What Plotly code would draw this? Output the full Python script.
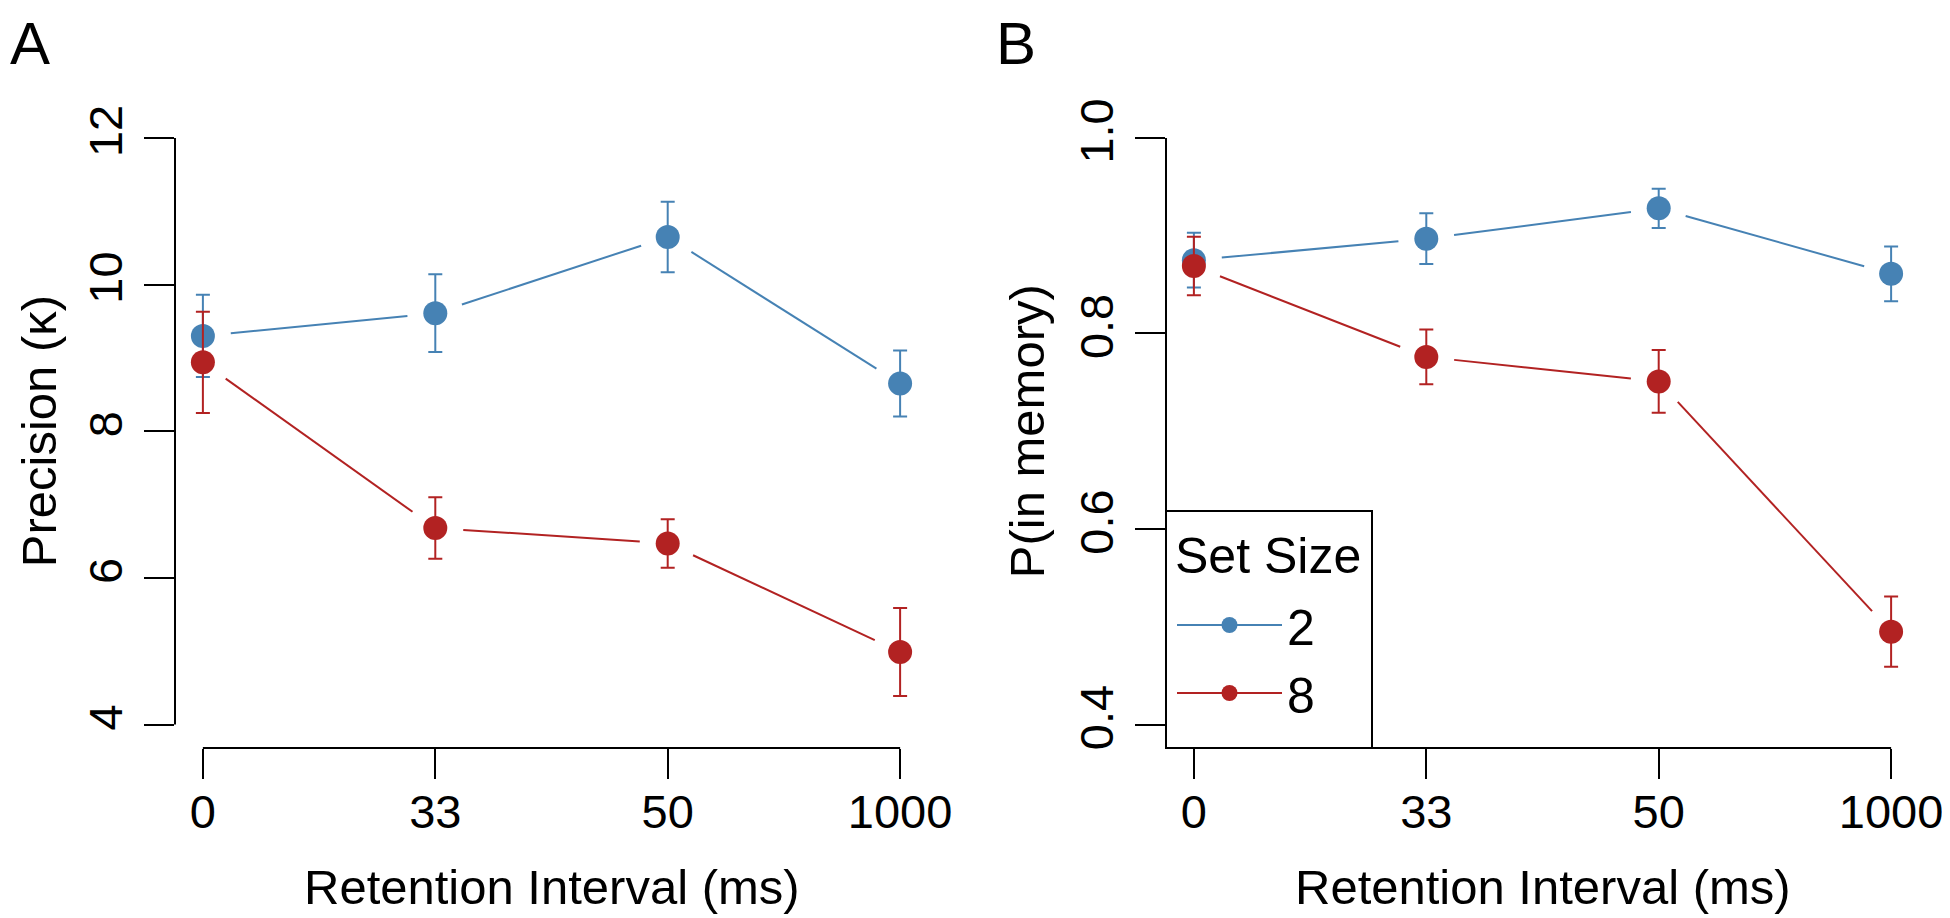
import numpy as np
import plotly.graph_objects as go

# ---------------- data ----------------
intervals = ["0", "33", "50", "1000"]
set_sizes = ["2", "8"]

precision_ss2 = [9.30, 9.61, 10.65, 8.65]
precision_ss2_err = [0.56, 0.53, 0.48, 0.45]
precision_ss8 = [8.94, 6.68, 6.47, 4.99]
precision_ss8_err = [0.69, 0.42, 0.33, 0.60]

pmem_ss2 = [0.875, 0.897, 0.928, 0.861]
pmem_ss2_err = [0.028, 0.026, 0.020, 0.028]
pmem_ss8 = [0.869, 0.776, 0.751, 0.495]
pmem_ss8_err = [0.030, 0.028, 0.032, 0.036]

precision_ticks = [4, 6, 8, 10, 12]
pmem_ticks = [0.4, 0.6, 0.8, 1.0]
pmem_ticktext = ["0.4", "0.6", "0.8", "1.0"]

# ---------------- style / layout ----------------
OFF = 8                      # default page body margin
W, H = 1950 - OFF, 918 - OFF  # figure size so it fills the window
BLUE = "#4682B4"
RED = "#B22222"
FONT = "Liberation Sans"
TICK_SIZE = 47
TITLE_SIZE = 49
LEG_SIZE = 50

# target positions in window pixels, converted to figure pixels
A_left, A_right = 175 - OFF, 928 - OFF
B_left, B_right = 1166 - OFF, 1919 - OFF
top_px, bottom_px = 114.5 - OFF, 748 - OFF
leg_right, leg_top = 1372 - OFF, 511 - OFF

xpos = np.arange(len(intervals))


def padded(lo, hi):
    d = (hi - lo) * 0.04
    return [lo - d, hi + d]


xr = padded(0, len(intervals) - 1)
yrA = padded(4, 12)
yrB = padded(0.4, 1.0)

GAP = 28  # px gap between line ends and point centres (R type="b")


def gapped(y, yr, width_px):
    sx = width_px / (xr[1] - xr[0])
    sy = (bottom_px - top_px) / (yr[1] - yr[0])
    xs, ys = [], []
    for i in range(len(y) - 1):
        ddx = xpos[i + 1] - xpos[i]
        ddy = y[i + 1] - y[i]
        L = np.hypot(ddx * sx, ddy * sy)
        f = GAP / L
        xs += [xpos[i] + ddx * f, xpos[i + 1] - ddx * f, None]
        ys += [y[i] + ddy * f, y[i + 1] - ddy * f, None]
    return xs, ys


fig = go.Figure()

panels = [
    ("x", "y", yrA, A_right - A_left,
     [(precision_ss2, precision_ss2_err, BLUE), (precision_ss8, precision_ss8_err, RED)]),
    ("x2", "y2", yrB, B_right - B_left,
     [(pmem_ss2, pmem_ss2_err, BLUE), (pmem_ss8, pmem_ss8_err, RED)]),
]

for xa, ya, yr, wpx, series in panels:
    for vals, err, col in series:
        lx, ly = gapped(vals, yr, wpx)
        fig.add_trace(go.Scatter(x=lx, y=ly, mode="lines", xaxis=xa, yaxis=ya,
                                 line=dict(color=col, width=2), showlegend=False,
                                 hoverinfo="skip"))
    for vals, err, col in series:
        fig.add_trace(go.Scatter(
            x=xpos, y=vals, mode="markers", xaxis=xa, yaxis=ya,
            marker=dict(color=col, size=24, line=dict(width=0)),
            error_y=dict(type="data", array=err, visible=True, color=col,
                         thickness=2, width=7),
            showlegend=False))

# legend entries
for name, col in zip(set_sizes, [BLUE, RED]):
    fig.add_trace(go.Scatter(x=[None], y=[None], mode="lines+markers", name=name,
                             xaxis="x2", yaxis="y2",
                             line=dict(color=col, width=2),
                             marker=dict(color=col, size=24)))

ax_common = dict(showgrid=False, zeroline=False, showline=False, ticks="outside",
                 ticklen=30, tickwidth=2, tickcolor="black", automargin=False,
                 tickfont=dict(family=FONT, size=TICK_SIZE, color="black"))
ydom = [1 - bottom_px / H, 1 - top_px / H]

fig.update_layout(
    width=W, height=H,
    margin=dict(l=0, r=0, t=0, b=0, pad=0, autoexpand=False),
    paper_bgcolor="white", plot_bgcolor="white",
    font=dict(family=FONT, color="black"),
    xaxis=dict(domain=[A_left / W, A_right / W], range=xr, tickvals=xpos,
               ticktext=intervals, anchor="y", ticklabelstandoff=-7, **ax_common),
    yaxis=dict(domain=ydom, range=yrA, tickvals=precision_ticks, tickangle=-90,
               anchor="x", ticklabelstandoff=3, **ax_common),
    xaxis2=dict(domain=[B_left / W, B_right / W], range=xr, tickvals=xpos,
                ticktext=intervals, anchor="y2", ticklabelstandoff=-7, **ax_common),
    yaxis2=dict(domain=ydom, range=yrB, tickvals=pmem_ticks, ticktext=pmem_ticktext,
                tickangle=-90, anchor="x2", ticklabelstandoff=3, **ax_common),
    legend=dict(x=(1172 - OFF) / W, y=1 - (659 - OFF) / H, xanchor="left",
                yanchor="middle", bgcolor="rgba(0,0,0,0)", borderwidth=0,
                font=dict(family=FONT, size=LEG_SIZE, color="black"),
                itemsizing="trace", itemwidth=105, tracegroupgap=0),
    showlegend=True,
)

line_style = dict(color="black", width=2)
shapes = []
for xa, ya, lo, hi in [("x", "y", 4, 12), ("x2", "y2", 0.4, 1.0)]:
    shapes.append(dict(type="line", xref=f"{xa} domain", yref=ya, x0=0, x1=0,
                       y0=lo, y1=hi, line=line_style))
    shapes.append(dict(type="line", xref=xa, yref=f"{ya} domain", x0=xpos[0],
                       x1=xpos[-1], y0=0, y1=0, line=line_style))
# legend frame (R-style box in bottom-left corner of panel B)
shapes.append(dict(type="rect", xref="paper", yref="paper", layer="above",
                   x0=B_left / W, x1=leg_right / W,
                   y0=1 - bottom_px / H, y1=1 - leg_top / H,
                   line=line_style, fillcolor="white"))
fig.update_layout(shapes=shapes)

annotations = [
    dict(text="Precision (κ)", textangle=-90, xref="paper", yref="y", x=(39 - OFF) / W, y=8,
         xanchor="center", yanchor="middle", showarrow=False, borderpad=0,
         font=dict(family=FONT, size=TITLE_SIZE)),
    dict(text="P(in memory)", textangle=-90, xref="paper", yref="y2", x=(1027 - OFF) / W,
         y=0.7, xanchor="center", yanchor="middle", showarrow=False,
         font=dict(family=FONT, size=TITLE_SIZE)),
    dict(text="Retention Interval (ms)", xref="x", yref="paper", x=1.5,
         y=1 - (887 - OFF) / H, xanchor="center", yanchor="middle", showarrow=False,
         font=dict(family=FONT, size=TITLE_SIZE)),
    dict(text="Retention Interval (ms)", xref="x2", yref="paper", x=1.5,
         y=1 - (887 - OFF) / H, xanchor="center", yanchor="middle", showarrow=False,
         font=dict(family=FONT, size=TITLE_SIZE)),
    dict(text="Set Size", xref="paper", yref="paper", x=(1268 - OFF) / W,
         y=1 - (556 - OFF) / H, xanchor="center", yanchor="middle", showarrow=False,
         font=dict(family=FONT, size=LEG_SIZE)),
    dict(text="A", xref="paper", yref="paper", x=0, y=1,
         xanchor="left", yanchor="top", showarrow=False,
         font=dict(family=FONT, size=60)),
    dict(text="B", xref="paper", yref="paper", x=(994 - OFF) / W, y=1,
         xanchor="left", yanchor="top", showarrow=False,
         font=dict(family=FONT, size=60)),
]
fig.update_layout(annotations=annotations)

fig.write_html("out.html")
